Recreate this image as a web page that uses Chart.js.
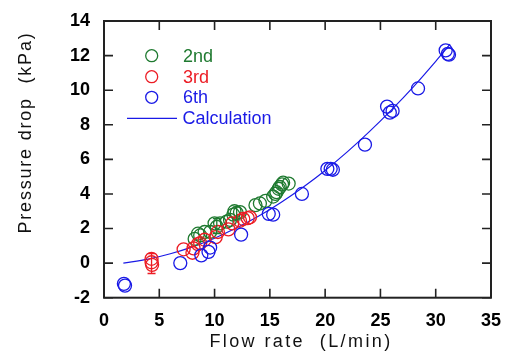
<!DOCTYPE html>
<html>
<head>
<meta charset="utf-8">
<script src="https://cdn.jsdelivr.net/npm/chart.js@4.4.1/dist/chart.umd.min.js"></script>
<style>
  html, body { margin: 0; padding: 0; background: #fff; }
  #wrap { width: 506px; height: 356px; }
</style>
</head>
<body>
<div id="wrap"><canvas id="pdChart" width="506" height="356"></canvas></div>
<script>
// --- data ---
const xTicks = [0, 5, 10, 15, 20, 25, 30, 35];
const yTicks = [-2, 0, 2, 4, 6, 8, 10, 12, 14];

const secondX = [8.2, 8.5, 8.7, 9.1, 9.6, 10.0, 10.2, 10.5, 11.1, 11.4, 11.7, 11.8, 12.0, 12.3, 13.7, 14.1, 14.6, 15.3, 15.5, 15.6, 15.8, 15.9, 16.1, 16.2, 16.7];
const secondY = [1.4, 1.7, 1.6, 1.8, 1.8, 2.3, 2.1, 2.3, 2.4, 2.5, 2.8, 3.0, 2.9, 2.95, 3.35, 3.45, 3.6, 3.85, 4.0, 4.1, 4.3, 4.4, 4.55, 4.65, 4.6];

const thirdX = [4.3, 4.35, 4.3, 7.2, 8.0, 8.1, 8.5, 8.7, 9.1, 10.1, 10.3, 11.25, 11.6, 12.3, 12.6, 13.0, 13.2];
const thirdY = [0.25, -0.1, 0.05, 0.8, 0.6, 0.85, 1.1, 1.15, 1.35, 1.5, 1.8, 1.95, 2.3, 2.45, 2.55, 2.6, 2.65];

const sixthX = [1.8, 1.9, 6.9, 8.8, 9.45, 9.6, 12.4, 14.9, 15.3, 17.9, 20.2, 20.5, 20.7, 23.6, 25.6, 25.85, 26.1, 28.4, 30.9, 31.2, 31.1];
const sixthY = [-1.2, -1.3, 0.0, 0.45, 0.65, 0.9, 1.65, 2.85, 2.8, 4.0, 5.45, 5.45, 5.4, 6.85, 9.05, 8.7, 8.8, 10.1, 12.3, 12.05, 12.1];

const calcX = [1.75, 4, 6, 8, 10, 12, 14, 16, 18, 20, 22, 24, 26, 28, 30, 31.3];
const calcY = [0, 0.23, 0.54, 0.94, 1.44, 2.04, 2.72, 3.51, 4.39, 5.36, 6.43, 7.6, 8.86, 10.21, 11.67, 12.66];

// error bars (x, low, high, series colour)
const errX = [4.3, 10.2, 12.0];
const errLo = [-0.6, 1.7, 2.5];
const errHi = [0.55, 2.58, 3.24];
const errCol = ['red', 'green', 'green'];

const COL = { green: '#1f7a30', red: '#ec1c24', blue: '#1a1ae6' };

const toPts = (xs, ys) => xs.map((v, i) => ({ x: v, y: ys[i] }));

// --- frame with inward ticks on all four sides ---
const frameTicks = {
  id: 'frameTicks',
  afterDraw(chart) {
    const { ctx, chartArea: a, scales: { x, y } } = chart;
    ctx.save();
    ctx.strokeStyle = '#222';
    ctx.lineWidth = 1.6;
    ctx.beginPath();
    xTicks.forEach(v => {
      const px = x.getPixelForValue(v);
      ctx.moveTo(px, a.bottom); ctx.lineTo(px, a.bottom - 9);
      ctx.moveTo(px, a.top); ctx.lineTo(px, a.top + 9);
    });
    yTicks.forEach(v => {
      const py = y.getPixelForValue(v);
      ctx.moveTo(a.left, py); ctx.lineTo(a.left + 9, py);
      ctx.moveTo(a.right, py); ctx.lineTo(a.right - 9, py);
    });
    ctx.stroke();
    ctx.lineWidth = 2;
    ctx.strokeRect(a.left, a.top, a.right - a.left, a.bottom - a.top);
    ctx.restore();
  }
};

// --- error bars drawn through the scales ---
const errorBars = {
  id: 'errorBars',
  afterDatasetsDraw(chart) {
    const { ctx, scales: { x, y } } = chart;
    ctx.save();
    ctx.lineWidth = 1.3;
    errX.forEach((v, i) => {
      const px = x.getPixelForValue(v);
      const top = y.getPixelForValue(errHi[i]);
      const bot = y.getPixelForValue(errLo[i]);
      ctx.strokeStyle = COL[errCol[i]];
      ctx.beginPath();
      ctx.moveTo(px, top); ctx.lineTo(px, bot);
      ctx.moveTo(px - 4, top); ctx.lineTo(px + 4, top);
      ctx.moveTo(px - 4, bot); ctx.lineTo(px + 4, bot);
      ctx.stroke();
    });
    ctx.restore();
  }
};

// --- legend inside the plot + axis titles (spaced lettering like the original) ---
const legendTitles = {
  id: 'legendTitles',
  afterDraw(chart) {
    const { ctx } = chart;
    ctx.save();
    ctx.font = '18px "Liberation Sans", Arial, sans-serif';
    ctx.textBaseline = 'middle';
    ctx.lineWidth = 1.3;
    const rows = [
      { label: '2nd', c: COL.green, y: 55.7 },
      { label: '3rd', c: COL.red, y: 76.7 },
      { label: '6th', c: COL.blue, y: 97.3 }
    ];
    rows.forEach(r => {
      ctx.strokeStyle = r.c;
      ctx.beginPath();
      ctx.arc(151.7, r.y, 6, 0, Math.PI * 2);
      ctx.stroke();
      ctx.fillStyle = r.c;
      ctx.fillText(r.label, 183, r.y + 1);
    });
    ctx.strokeStyle = COL.blue;
    ctx.lineWidth = 1.2;
    ctx.beginPath();
    ctx.moveTo(127, 118.3); ctx.lineTo(177, 118.3);
    ctx.stroke();
    ctx.fillStyle = COL.blue;
    ctx.fillText('Calculation', 182.5, 119.3);

    // axis titles
    ctx.fillStyle = '#111';
    ctx.textAlign = 'center';
    ctx.textBaseline = 'alphabetic';
    ctx.letterSpacing = '2.4px';
    ctx.fillText('Flow rate  (L/min)', 301, 347);
    ctx.translate(31, 132.5);
    ctx.rotate(-Math.PI / 2);
    ctx.letterSpacing = '1.8px';
    ctx.fillText('Pressure drop  (kPa)', 0, 0);
    ctx.restore();
  }
};

const hollow = (c) => ({
  showLine: false,
  pointStyle: 'circle',
  pointRadius: 6.5,
  pointHoverRadius: 6.5,
  pointBorderWidth: 1.3,
  pointBorderColor: c,
  pointBackgroundColor: 'rgba(0,0,0,0)',
  borderColor: c
});

const tickFont = { family: '"Liberation Sans", Arial, sans-serif', size: 18, weight: 'bold' };

new Chart(document.getElementById('pdChart'), {
  type: 'scatter',
  data: {
    datasets: [
      { label: 'Calculation', data: toPts(calcX, calcY), showLine: true, borderColor: COL.blue, borderWidth: 1.2, pointRadius: 0, cubicInterpolationMode: 'monotone', order: 4 },
      { label: '2nd', data: toPts(secondX, secondY), ...hollow(COL.green), order: 3 },
      { label: '3rd', data: toPts(thirdX, thirdY), ...hollow(COL.red), order: 2 },
      { label: '6th', data: toPts(sixthX, sixthY), ...hollow(COL.blue), order: 1 }
    ]
  },
  options: {
    responsive: false,
    animation: false,
    devicePixelRatio: 1,
    layout: { padding: { left: 0, right: 15, top: 21, bottom: 0 } },
    plugins: { legend: { display: false }, tooltip: { enabled: false } },
    scales: {
      x: {
        type: 'linear', min: 0, max: 35,
        afterBuildTicks: s => { s.ticks = xTicks.map(v => ({ value: v })); },
        afterFit: s => { s.height = 58.3; s.paddingLeft = 0; s.paddingRight = 0; },
        grid: { display: false, drawTicks: false },
        border: { display: false },
        ticks: { padding: 13, color: '#000', font: tickFont }
      },
      y: {
        type: 'linear', min: -2, max: 14,
        afterBuildTicks: s => { s.ticks = yTicks.map(v => ({ value: v })); },
        afterFit: s => { s.width = 104; s.paddingTop = 0; s.paddingBottom = 0; },
        grid: { display: false, drawTicks: false },
        border: { display: false },
        ticks: { padding: 14, color: '#000', font: tickFont }
      }
    }
  },
  plugins: [errorBars, frameTicks, legendTitles]
});
</script>
</body>
</html>
